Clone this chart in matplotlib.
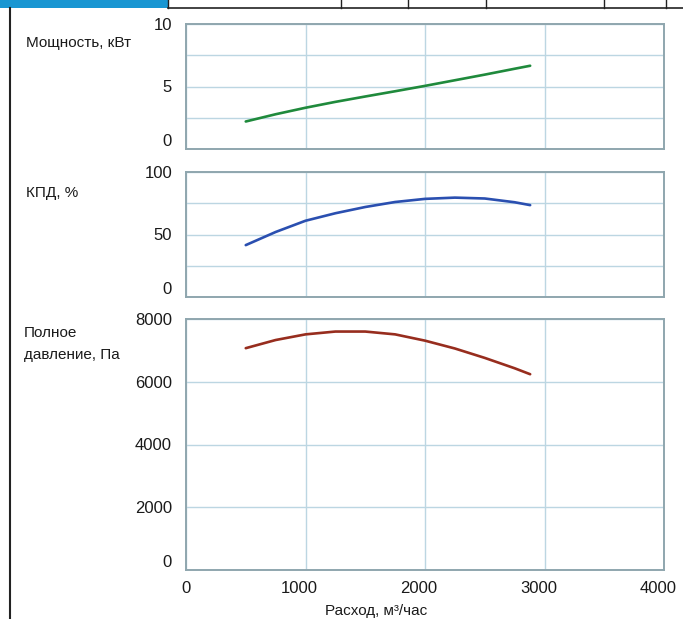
import matplotlib
matplotlib.use("Agg")
import matplotlib.pyplot as plt
from matplotlib.lines import Line2D
from matplotlib.patches import Rectangle
from matplotlib.transforms import ScaledTranslation

plt.rcParams['font.family'] = ['Liberation Sans', 'DejaVu Sans']

# ---- data ----
flow = [500, 750, 1000, 1250, 1500, 1750, 2000, 2250, 2500, 2750, 2880]
power = [2.2, 2.78, 3.3, 3.77, 4.2, 4.62, 5.05, 5.5, 5.95, 6.42, 6.66]
efficiency = [41.5, 52, 61, 67, 72, 76, 78.5, 79.5, 78.8, 75.8, 73.5]
pressure = [7070, 7330, 7510, 7600, 7600, 7510, 7310, 7060, 6760, 6430, 6240]

x_ticks = [0, 1000, 2000, 3000, 4000]
power_ticks = [0, 5, 10]
eff_ticks = [0, 50, 100]
press_ticks = [0, 2000, 4000, 6000, 8000]

power_label = "Мощность, кВт"
eff_label = "КПД, %"
press_label = ["Полное", "давление, Па"]
x_label = "Расход, м³/час"

W, H = 683, 619
fig = plt.figure(figsize=(W / 100, H / 100), dpi=100)
fig.patch.set_facecolor('white')

def fx(px):
    return px / W

def fy(py):
    return 1 - py / H

left, right = 186, 664
panels = [
    (24, 149, power, power_ticks, [2.5, 7.5], '#1f8a3c', (0, 10)),
    (172, 297, efficiency, eff_ticks, [25, 75], '#2a4fb0', (0, 100)),
    (319, 570, pressure, press_ticks, [], '#972d1e', (0, 8000)),
]

grid_c = '#bcd6e2'
spine_c = '#8fa6ae'
tick_fs = 12
txt_c = '#1a1a1a'

axes = []
for top, bot, ys, yt, yminor, col, ylim in panels:
    ax = fig.add_axes([fx(left), fy(bot), fx(right - left), (bot - top) / H])
    ax.plot(flow, ys, color=col, lw=1.9, solid_capstyle='round', zorder=3)
    ax.set_xlim(0, 4000)
    ax.set_ylim(*ylim)
    ax.set_xticks(x_ticks)
    ax.set_yticks(yt)
    ax.set_yticks(yminor, minor=True)
    ax.grid(True, which='both', color=grid_c, lw=1.0)
    ax.set_axisbelow(True)
    for s in ax.spines.values():
        s.set_color(spine_c)
        s.set_linewidth(1.4)
    ax.tick_params(axis='both', which='both', length=0, labelsize=tick_fs,
                   colors=txt_c, pad=10)
    axes.append(ax)

for ax in axes[:-1]:
    ax.tick_params(axis='x', labelbottom=False)

# bottom y tick label sits above the axis bottom
for ax in axes:
    labs = ax.yaxis.get_majorticklabels()
    labs[0].set_verticalalignment('bottom')

axes[-1].tick_params(axis='x', pad=8)
for lab in axes[-1].xaxis.get_majorticklabels()[1:]:
    lab.set_transform(lab.get_transform() + ScaledTranslation(-6 / 100, 0, fig.dpi_scale_trans))

# panel titles
fs = 11
fig.text(fx(26), fy(43), power_label, fontsize=fs, va='center', ha='left', color=txt_c)
fig.text(fx(26), fy(193), eff_label, fontsize=fs, va='center', ha='left', color=txt_c)
fig.text(fx(24), fy(333), press_label[0], fontsize=fs, va='center', ha='left', color=txt_c)
fig.text(fx(24), fy(355), press_label[1], fontsize=fs, va='center', ha='left', color=txt_c)
fig.text(fx(376), fy(611), x_label, fontsize=fs, va='center', ha='center', color=txt_c)

# window frame decorations
fig.add_artist(Rectangle((0, fy(8)), fx(168), 8 / H, transform=fig.transFigure,
                         facecolor='#1996d2', edgecolor='none'))
fig.add_artist(Line2D([fx(168), 1], [fy(8), fy(8)], transform=fig.transFigure,
                      color='#222222', lw=1.2))
for xv in [168, 341, 408, 486, 604, 666]:
    fig.add_artist(Line2D([fx(xv), fx(xv)], [1, fy(8)], transform=fig.transFigure,
                          color='#222222', lw=1.0))
fig.add_artist(Line2D([fx(9.5), fx(9.5)], [fy(8), 0], transform=fig.transFigure,
                      color='#222222', lw=1.5))

fig.savefig('out.png', dpi=100, facecolor='white')
